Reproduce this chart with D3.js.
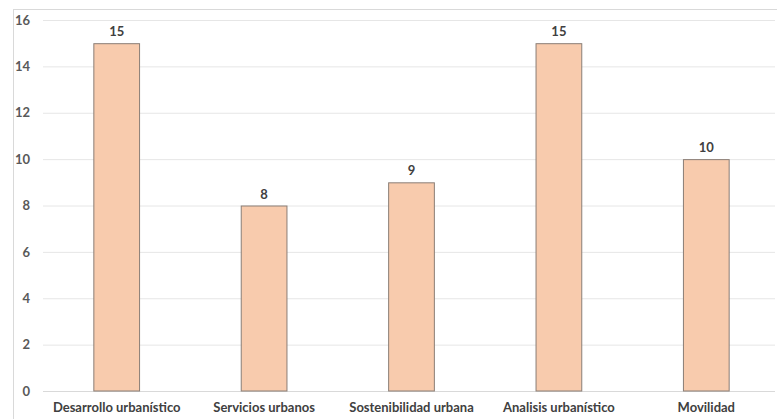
<!DOCTYPE html>
<html><head><meta charset="utf-8">
<script src="https://cdn.jsdelivr.net/npm/d3@7"></script>
<style>body{margin:0;background:#fff;}svg{display:block;}</style>
</head><body>
<script>
const categories = ["Desarrollo urbanístico","Servicios urbanos","Sostenibilidad urbana","Analisis urbanístico","Movilidad"];
const values = [15, 8, 9, 15, 10];
const yTicks = [0, 2, 4, 6, 8, 10, 12, 14, 16];

const W = 777, H = 419;
const m = {left: 43, right: -3, top: 20, bottom: 28};
const svg = d3.select("body").append("svg").attr("width", W).attr("height", H);
const font = "Lato, 'Open Sans', sans-serif";

svg.append("rect").attr("x", 13.5).attr("y", 9.5).attr("width", W).attr("height", H)
  .attr("fill", "none").attr("stroke", "#d9d9d9");

const x = d3.scaleBand().domain(categories).range([m.left, W - m.right]).paddingInner(0.683).paddingOuter(0.3415);
const y = d3.scaleLinear().domain([0, 16]).range([H - m.bottom, m.top]);

const gy = svg.append("g").attr("transform", `translate(${m.left},0)`)
  .call(d3.axisLeft(y).tickValues(yTicks).tickSize(-(W - m.left - 2)).tickPadding(13));
gy.select(".domain").remove();
gy.selectAll(".tick line").attr("stroke", "#e6e6e6");
gy.selectAll(".tick text").attr("fill", "#595959").style("font-family", font).style("font-size", "13px").style("font-weight", "bold");
gy.selectAll(".tick").filter(d => d === 0).select("line").attr("stroke", "#d9d9d9");

svg.append("g").selectAll("rect").data(values).join("rect")
  .attr("x", (d, i) => x(categories[i]) + 0.5)
  .attr("y", d => y(d) + 0.5)
  .attr("width", x.bandwidth() - 1)
  .attr("height", d => y(0) - y(d) - 0.5)
  .attr("fill", "#f8cbad").attr("stroke", "#8a7e76").attr("stroke-width", 1);

svg.append("g").selectAll("text").data(values).join("text")
  .attr("x", (d, i) => x(categories[i]) + x.bandwidth() / 2)
  .attr("y", d => y(d) - 7)
  .attr("text-anchor", "middle").attr("fill", "#404040")
  .style("font-family", font).style("font-size", "13px").style("font-weight", "bold")
  .text(d => d);

const gx = svg.append("g").attr("transform", `translate(0,${y(0)})`)
  .call(d3.axisBottom(x).tickSize(0).tickPadding(12));
gx.select(".domain").remove();
gx.selectAll(".tick text").attr("fill", "#404040").style("font-family", font).style("font-size", "13px").style("font-weight", "bold");
</script>
</body></html>
